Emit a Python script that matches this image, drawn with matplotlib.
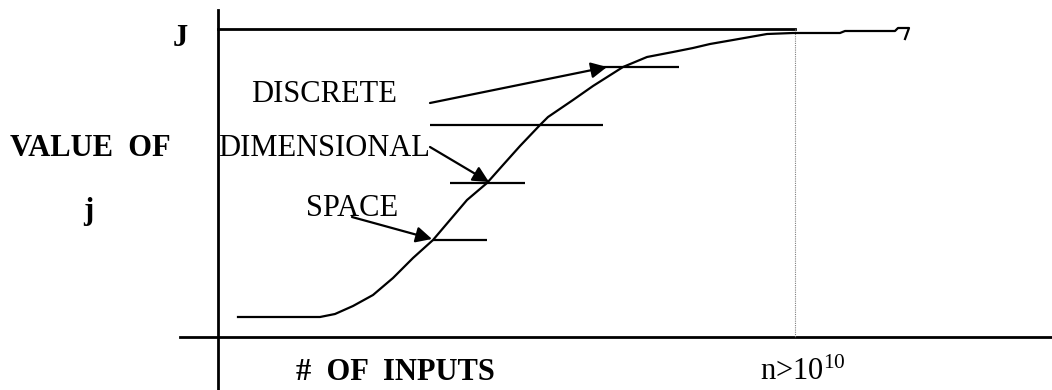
import matplotlib.pyplot as plt

plt.rcParams['mathtext.fontset'] = 'custom'
plt.rcParams['mathtext.rm'] = 'Liberation Serif'
plt.rcParams['mathtext.it'] = 'Liberation Serif:italic'

# Curve (pixel-like units, y grows downward)
curve_x = [238, 320, 335, 353, 373, 393, 413, 433, 450, 467, 487, 503, 520, 540,
           548, 573, 593, 623, 647, 673, 693, 710, 733, 750, 767, 793, 840, 845,
           895, 898, 909, 905]
curve_y = [317, 317, 314, 306, 295, 278, 258, 240, 220, 200, 183, 165, 146, 125,
           117, 100, 86, 67, 57, 52, 48, 44, 40, 37, 34, 33, 33, 31,
           31, 28, 28, 39]

# Short horizontal marks where the labels point
mark_y = [240, 183, 125, 67]
mark_x0 = [433, 450, 430, 598]
mark_x1 = [487, 525, 603, 679]

# Label arrows: text, text position, arrow start, arrow end
labels = ["SPACE", "DIMENSIONAL", "DISCRETE"]
label_pos = [(352, 208), (324, 148), (324, 95)]
arrow_start = [(352, 217), (430, 147), (430, 103)]
arrow_end = [(432, 239), (489, 182), (607, 67)]

fig = plt.figure(figsize=(10.52, 3.9), dpi=100)
ax = fig.add_axes([0, 0, 1, 1])
ax.set_xlim(0, 1052)
ax.set_ylim(390, 0)
ax.axis('off')

serif = 'Liberation Serif'
fs = 22

# axes lines
ax.plot([218, 218], [10, 390], color='black', lw=2)
ax.plot([180, 1052], [337, 337], color='black', lw=2)
ax.plot([218, 795], [29, 29], color='black', lw=2)
ax.plot([795, 795], [29, 337], color='gray', lw=0.8, ls=(0, (1, 1)))

# curve and marks
ax.plot(curve_x, curve_y, color='black', lw=1.6)
ax.hlines(mark_y, mark_x0, mark_x1, color='black', lw=1.6)

for text, pos, s, e in zip(labels, label_pos, arrow_start, arrow_end):
    ax.text(pos[0], pos[1], text, family=serif, fontsize=fs, ha='center', va='center')
    ax.annotate('', xy=e, xytext=s,
                arrowprops=dict(arrowstyle='-|>', color='black', lw=1.6,
                                mutation_scale=24, shrinkA=0, shrinkB=0))

ax.text(180, 38, "J", family=serif, fontsize=fs, weight='bold', ha='center', va='center')
ax.text(90, 148, "VALUE  OF", family=serif, fontsize=fs, weight='bold', ha='center', va='center')
ax.text(88, 212, "j", family=serif, fontsize=fs, weight='bold', ha='center', va='center')
ax.text(395, 372, "#  OF  INPUTS", family=serif, fontsize=fs, weight='bold', ha='center', va='center')
ax.text(803, 372, r"n>10$^{\mathrm{10}}$", family=serif, fontsize=fs, ha='center', va='center')

fig.savefig("out.png", dpi=100)
